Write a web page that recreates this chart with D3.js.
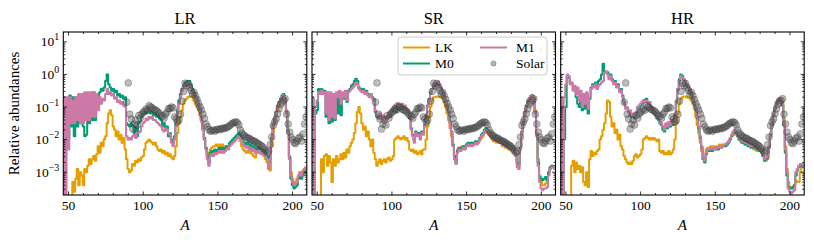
<!DOCTYPE html>
<html><head><meta charset="utf-8">
<script src="https://cdn.jsdelivr.net/npm/d3@7"></script>
<style>body{margin:0;background:#fff}svg{display:block}</style>
</head><body>
<svg id="c" width="814" height="243"></svg>
<script>
// ---------------- DATA ----------------
// Model curves: log10 of relative abundance for mass numbers A = 47 ... 209 (one value per A)
const A_START = 47;
const PANEL_TITLES = ["LR", "SR", "HR"];
const SERIES_NAMES = ["LK", "M0", "M1"];

const LR_LK = [
-4.5,-4.5,-4.5,-4.5,-4.5,-3.8,-3.3,-3.6,-3.2,-2.9,
-3.4,-3.0,-3.1,-3.4,-2.9,-3.0,-2.8,-2.6,-2.75,-2.6,
-2.5,-2.65,-2.45,-2.2,-2.4,-2.1,-2.2,-2.0,-1.9,-1.5,
-1.2,-1.1,-1.25,-1.6,-1.7,-1.9,-1.75,-2.0,-1.85,-2.1,
-1.95,-2.3,-2.6,-2.9,-3.0,-2.95,-2.75,-2.8,-2.65,-2.7,
-2.6,-2.65,-2.55,-2.5,-2.3,-2.1,-2.05,-2.0,-2.05,-2.1,
-2.15,-2.1,-2.2,-2.3,-2.35,-2.3,-2.4,-2.35,-2.45,-2.4,
-2.5,-2.45,-2.55,-2.6,-2.5,-2.2,-1.8,-1.5,-1.3,-1.1,
-0.9,-0.8,-0.75,-0.7,-0.68,-0.68,-0.7,-0.8,-0.9,-1.0,
-1.1,-1.25,-1.45,-1.7,-2.0,-2.25,-2.4,-2.5,-2.3,-2.25,
-2.2,-2.2,-2.15,-2.2,-2.15,-2.2,-2.15,-2.2,-2.2,-2.25,
-2.2,-2.15,-2.1,-2.05,-2.05,-2.0,-1.95,-1.95,-2.05,-2.2,
-2.3,-2.35,-2.4,-2.35,-2.4,-2.35,-2.45,-2.5,-2.55,-2.4,
-2.35,-2.3,-2.4,-2.45,-2.5,-2.6,-2.7,-2.8,-2.95,-2.2,
-1.8,-1.5,-1.3,-1.1,-0.95,-0.8,-0.7,-0.65,-0.75,-1.1,
-1.7,-2.5,-3.0,-3.2,-3.3,-3.3,-3.2,-3.1,-3.0,-3.0,
-2.95,-2.9,-2.85];
const LR_M0 = [
-0.7,-4.5,-0.75,-2.0,-0.65,-1.6,-0.7,-1.9,-0.7,-1.6,
-0.65,-1.5,-0.7,-1.6,-1.9,-1.85,-0.75,-1.5,-0.6,-1.4,
-0.55,-1.4,-0.6,-1.0,-0.55,-0.45,-0.5,-0.4,-0.2,0.0,
-0.3,-0.4,-0.5,-0.45,-0.55,-0.5,-0.65,-0.6,-0.7,-0.65,
-0.75,-0.7,-1.5,-1.55,-1.6,-1.5,-1.55,-1.8,-1.6,-1.9,
-1.5,-1.45,-1.3,-1.2,-1.15,-1.2,-1.1,-1.15,-1.2,-1.15,
-1.25,-1.2,-1.3,-1.25,-1.35,-1.4,-1.6,-1.5,-1.7,-1.6,
-1.9,-1.8,-2.0,-2.1,-1.9,-1.5,-1.1,-0.8,-0.6,-0.45,
-0.35,-0.25,-0.3,-0.2,-0.2,-0.3,-0.45,-0.55,-0.65,-0.75,
-0.9,-1.05,-1.35,-1.65,-1.95,-2.25,-2.5,-2.7,-2.4,-2.35,
-2.4,-2.3,-2.35,-2.3,-2.25,-2.3,-2.25,-2.3,-2.25,-2.2,
-2.2,-2.1,-2.05,-2.0,-1.95,-1.9,-1.85,-1.8,-1.85,-1.95,
-2.05,-2.1,-2.15,-2.1,-2.2,-2.15,-2.25,-2.2,-2.3,-2.25,
-2.3,-2.25,-2.35,-2.3,-2.35,-2.4,-2.5,-2.7,-2.5,-1.95,
-1.55,-1.35,-1.15,-0.95,-0.85,-0.75,-0.65,-0.6,-0.75,-1.15,
-1.75,-2.55,-3.2,-3.4,-3.5,-3.45,-3.4,-3.2,-3.1,-3.2,
-3.1,-3.0,-2.95];
const LR_M1 = [
-0.7,-4.5,-0.7,-2.3,-0.7,-1.5,-0.8,-1.5,-0.7,-1.4,
-0.6,-1.5,-0.6,-1.5,-0.55,-1.4,-0.55,-1.4,-0.55,-1.3,
-0.55,-1.3,-0.6,-1.1,-0.7,-0.9,-0.75,-0.8,-0.6,-0.45,
-0.6,-0.55,-0.65,-0.6,-0.75,-0.7,-0.85,-0.8,-0.9,-0.85,
-0.95,-1.0,-1.9,-2.0,-1.95,-2.0,-1.9,-1.85,-1.95,-1.8,
-1.8,-1.75,-1.6,-1.5,-1.45,-1.35,-1.4,-1.3,-1.35,-1.3,
-1.4,-1.4,-1.45,-1.5,-1.55,-1.6,-1.7,-1.75,-1.65,-1.7,
-1.8,-1.85,-2.1,-2.2,-2.0,-1.6,-1.2,-0.9,-0.7,-0.5,
-0.4,-0.3,-0.35,-0.25,-0.3,-0.4,-0.5,-0.6,-0.7,-0.8,
-0.95,-1.1,-1.4,-1.7,-2.0,-2.3,-2.6,-2.8,-2.5,-2.45,
-2.5,-2.4,-2.45,-2.4,-2.35,-2.4,-2.35,-2.4,-2.35,-2.3,
-2.3,-2.2,-2.15,-2.1,-2.05,-2.0,-1.95,-1.9,-1.95,-2.05,
-2.15,-2.2,-2.25,-2.2,-2.3,-2.25,-2.35,-2.3,-2.4,-2.35,
-2.4,-2.35,-2.45,-2.4,-2.45,-2.5,-2.6,-2.9,-2.6,-2.0,
-1.6,-1.4,-1.2,-1.0,-0.9,-0.8,-0.7,-0.65,-0.8,-1.2,
-1.8,-2.6,-3.1,-3.3,-3.4,-3.35,-3.3,-3.1,-3.0,-3.1,
-3.0,-2.9,-2.85];

const SR_LK = [
-4.5,-4.5,-4.5,-4.5,-4.5,-4.5,-2.6,-3.0,-2.5,-2.45,
-2.8,-2.5,-2.7,-3.3,-2.6,-2.8,-2.5,-2.7,-2.6,-2.45,
-2.6,-2.4,-2.55,-2.3,-2.4,-2.2,-2.1,-2.0,-1.8,-1.5,
-1.15,-1.0,-1.2,-1.5,-1.7,-1.6,-1.9,-1.75,-2.0,-2.2,
-2.0,-2.4,-2.6,-2.8,-2.7,-2.6,-2.75,-2.65,-2.6,-2.7,
-2.6,-2.55,-2.65,-2.6,-2.5,-2.0,-1.95,-1.9,-1.95,-2.0,
-1.95,-1.9,-2.0,-1.95,-2.05,-2.3,-2.35,-2.3,-2.4,-2.35,
-2.45,-2.4,-2.35,-2.45,-2.3,-2.3,-2.0,-1.6,-1.3,-1.0,
-0.8,-0.7,-0.7,-0.68,-0.68,-0.7,-0.7,-0.75,-0.85,-1.0,
-1.2,-1.4,-1.65,-1.9,-2.2,-2.5,-2.6,-2.3,-2.25,-2.25,
-2.2,-2.2,-2.2,-2.15,-2.15,-2.15,-2.1,-2.15,-2.1,-2.1,
-2.1,-2.05,-2.0,-1.95,-1.9,-1.8,-1.75,-1.8,-1.85,-1.9,
-2.0,-2.05,-2.0,-2.1,-2.05,-2.1,-2.1,-2.2,-2.2,-2.25,
-2.2,-2.3,-2.25,-2.3,-2.3,-2.4,-2.5,-2.7,-2.8,-2.3,
-1.85,-1.55,-1.25,-1.05,-0.9,-0.78,-0.7,-0.67,-0.72,-1.1,
-1.8,-2.6,-3.1,-3.3,-3.4,-3.4,-3.35,-3.3,-3.0,-2.9,
-2.85,-2.85,-2.9];
const SR_M0 = [
-0.75,-4.5,-1.2,-1.1,-0.45,-0.5,-0.45,-0.5,-0.5,-1.3,
-0.6,-1.5,-0.6,-1.45,-0.65,-1.4,-0.6,-1.2,-0.55,-1.25,
-0.6,-0.75,-0.55,-0.85,-0.5,-0.45,-0.35,-0.3,-0.2,-0.13,
-0.2,-0.4,-0.45,-0.5,-0.45,-0.55,-0.5,-0.6,-0.65,-0.6,
-0.7,-0.75,-1.15,-1.3,-1.35,-1.25,-1.35,-1.3,-1.4,-1.35,
-1.35,-1.25,-1.3,-1.15,-1.05,-1.1,-1.15,-1.05,-1.0,-1.05,
-0.95,-1.05,-1.0,-1.1,-1.15,-1.35,-1.65,-1.85,-2.0,-1.75,
-1.85,-1.8,-1.9,-1.75,-1.8,-1.55,-1.25,-0.95,-0.75,-0.55,
-0.45,-0.38,-0.34,-0.3,-0.28,-0.33,-0.42,-0.52,-0.65,-0.8,
-0.95,-1.15,-1.45,-1.75,-2.15,-2.5,-2.7,-2.35,-2.25,-2.3,
-2.25,-2.2,-2.25,-2.15,-2.1,-2.15,-2.1,-2.15,-2.1,-2.05,
-2.1,-2.05,-1.95,-1.85,-1.8,-1.7,-1.65,-1.7,-1.75,-1.8,
-1.9,-1.95,-1.9,-2.0,-1.95,-2.05,-2.0,-2.1,-2.05,-2.15,
-2.1,-2.2,-2.15,-2.25,-2.2,-2.3,-2.45,-2.7,-2.75,-2.25,
-1.75,-1.45,-1.15,-0.95,-0.8,-0.72,-0.66,-0.63,-0.7,-1.15,
-1.85,-2.7,-3.15,-3.2,-3.25,-3.2,-3.15,-3.25,-3.0,-2.85,
-2.8,-2.8,-2.85];
const SR_M1 = [
-0.7,-4.5,-1.0,-0.8,-0.55,-0.6,-0.5,-0.6,-0.55,-1.2,
-0.55,-1.4,-0.55,-1.3,-0.6,-1.35,-0.55,-0.7,-0.5,-0.9,
-0.55,-0.7,-0.5,-0.8,-0.55,-0.5,-0.45,-0.4,-0.35,-0.25,
-0.3,-0.45,-0.5,-0.55,-0.5,-0.6,-0.55,-0.65,-0.7,-0.6,
-0.75,-0.8,-1.1,-1.25,-1.3,-1.2,-1.35,-1.25,-1.4,-1.3,
-1.35,-1.2,-1.25,-1.1,-1.0,-0.95,-1.0,-0.9,-0.95,-1.0,
-0.9,-1.0,-0.95,-1.05,-1.1,-1.3,-1.7,-1.9,-2.1,-1.8,
-1.9,-1.85,-2.0,-1.8,-1.85,-1.6,-1.3,-1.0,-0.8,-0.6,
-0.45,-0.35,-0.3,-0.25,-0.22,-0.3,-0.4,-0.5,-0.65,-0.8,
-1.0,-1.2,-1.5,-1.8,-2.2,-2.6,-2.75,-2.4,-2.3,-2.35,
-2.3,-2.25,-2.3,-2.2,-2.15,-2.2,-2.15,-2.2,-2.15,-2.1,
-2.15,-2.1,-2.0,-1.9,-1.85,-1.75,-1.7,-1.75,-1.8,-1.85,
-1.95,-2.0,-1.95,-2.05,-2.0,-2.1,-2.05,-2.15,-2.1,-2.2,
-2.15,-2.25,-2.2,-2.3,-2.25,-2.35,-2.5,-2.85,-2.9,-2.3,
-1.8,-1.5,-1.2,-1.0,-0.85,-0.75,-0.68,-0.65,-0.7,-1.2,
-1.9,-2.8,-3.3,-3.5,-3.55,-3.5,-3.5,-3.45,-3.1,-2.9,
-2.85,-2.85,-2.9];

const HR_LK = [
-4.5,-4.5,-4.5,-4.5,-4.5,-4.5,-4.5,-2.8,-2.65,-3.0,
-2.7,-2.9,-2.8,-3.0,-2.85,-3.3,-3.4,-3.0,-3.45,-2.6,
-2.35,-2.5,-2.4,-2.45,-2.35,-2.3,-2.0,-1.9,-1.7,-1.5,
-1.2,-0.8,-0.85,-1.3,-1.6,-1.5,-1.8,-1.7,-2.0,-1.85,
-2.2,-2.3,-2.5,-2.6,-2.7,-2.75,-2.7,-2.75,-2.65,-2.5,
-2.45,-2.55,-2.5,-2.45,-2.3,-2.0,-1.95,-1.9,-1.95,-2.0,
-1.95,-2.0,-1.95,-2.0,-2.05,-2.0,-2.35,-2.4,-2.35,-2.45,
-2.4,-2.45,-2.35,-2.45,-2.4,-2.3,-2.0,-1.5,-1.2,-0.9,
-0.75,-0.7,-0.68,-0.68,-0.7,-0.72,-0.75,-0.8,-0.9,-1.05,
-1.3,-1.55,-1.8,-2.1,-2.35,-2.6,-2.55,-2.3,-2.25,-2.25,
-2.2,-2.25,-2.2,-2.25,-2.2,-2.2,-2.15,-2.2,-2.15,-2.15,
-2.15,-2.1,-2.05,-2.0,-1.9,-1.85,-1.8,-1.85,-1.9,-2.0,
-2.05,-2.1,-2.05,-2.15,-2.1,-2.15,-2.15,-2.2,-2.2,-2.3,
-2.25,-2.35,-2.3,-2.35,-2.4,-2.5,-2.6,-2.65,-2.6,-2.25,
-1.9,-1.55,-1.25,-1.05,-0.9,-0.78,-0.72,-0.74,-0.85,-1.35,
-2.2,-2.9,-3.3,-3.45,-3.5,-3.5,-3.4,-3.25,-3.3,-3.3,
-3.0,-2.85,-2.8];
const HR_M0 = [
-0.75,-4.5,-2.0,-1.0,-0.05,-0.1,-0.25,-0.3,-0.45,-0.4,
-0.7,-0.9,-1.0,-0.6,-1.1,-0.7,-1.05,-0.6,-1.2,-0.75,
-0.4,-0.3,-0.35,-0.25,-0.3,-0.2,-0.15,0.0,0.33,0.1,
0.05,0.07,-0.1,0.0,-0.15,-0.25,-0.2,-0.35,-0.3,-0.5,
-0.45,-0.65,-0.85,-1.0,-1.05,-1.15,-1.25,-1.3,-1.25,-1.35,
-1.2,-1.05,-1.0,-0.95,-0.9,-0.8,-0.78,-0.75,-0.85,-0.85,
-1.0,-1.1,-1.2,-1.25,-1.35,-1.4,-1.5,-1.55,-1.7,-1.75,
-1.55,-1.65,-1.5,-1.6,-1.45,-1.55,-1.25,-0.85,-0.45,-0.15,
0.0,-0.05,-0.15,-0.25,-0.35,-0.4,-0.5,-0.6,-0.75,-0.9,
-1.1,-1.35,-1.65,-1.95,-2.25,-2.6,-2.7,-2.45,-2.35,-2.35,
-2.3,-2.35,-2.3,-2.3,-2.25,-2.3,-2.25,-2.25,-2.2,-2.2,
-2.2,-2.15,-2.1,-2.0,-1.9,-1.8,-1.75,-1.8,-1.9,-2.0,
-2.0,-2.1,-2.05,-2.15,-2.1,-2.2,-2.15,-2.25,-2.2,-2.25,
-2.2,-2.3,-2.25,-2.35,-2.35,-2.5,-2.65,-2.6,-2.55,-2.25,
-1.85,-1.55,-1.25,-1.05,-0.9,-0.8,-0.76,-0.8,-0.95,-1.55,
-2.4,-3.1,-3.45,-3.5,-3.5,-3.45,-3.4,-3.1,-2.95,-2.85,
-2.8,-2.8,-2.85];
const HR_M1 = [
-0.7,-4.5,-0.7,-0.3,0.0,-0.05,-0.3,-0.25,-0.5,-0.35,
-0.6,-0.4,-0.8,-0.5,-1.0,-0.6,-0.9,-0.55,-1.05,-0.7,
-0.45,-0.35,-0.4,-0.3,-0.45,-0.35,-0.3,-0.25,-0.2,0.05,
0.1,0.0,-0.15,-0.05,-0.2,-0.3,-0.25,-0.4,-0.35,-0.55,
-0.5,-0.7,-0.9,-1.05,-1.0,-1.15,-1.1,-1.25,-1.2,-1.3,
-1.15,-1.0,-0.95,-0.9,-0.85,-0.8,-0.85,-0.8,-0.9,-0.85,
-1.0,-1.05,-1.15,-1.2,-1.3,-1.35,-1.45,-1.5,-1.6,-1.7,
-1.5,-1.6,-1.45,-1.55,-1.4,-1.5,-1.2,-0.8,-0.5,-0.25,
-0.05,-0.1,-0.15,-0.2,-0.3,-0.35,-0.45,-0.55,-0.7,-0.85,
-1.05,-1.3,-1.6,-1.9,-2.2,-2.55,-2.65,-2.4,-2.3,-2.3,
-2.25,-2.3,-2.25,-2.3,-2.25,-2.25,-2.2,-2.25,-2.2,-2.15,
-2.15,-2.1,-2.05,-1.95,-1.85,-1.75,-1.7,-1.75,-1.85,-1.95,
-1.95,-2.05,-2.0,-2.1,-2.05,-2.15,-2.1,-2.2,-2.15,-2.2,
-2.15,-2.25,-2.2,-2.3,-2.3,-2.45,-2.6,-2.55,-2.5,-2.2,
-1.8,-1.5,-1.2,-1.0,-0.85,-0.75,-0.72,-0.75,-0.9,-1.5,
-2.3,-3.0,-3.5,-3.6,-3.65,-3.6,-3.55,-3.0,-2.9,-2.8,
-2.75,-2.75,-2.8];

// Solar pattern: relative abundance for A = 89 ... 209
const SOLAR_START = 89;
const SOLAR = [
0.14,0.55,0.06,0.043,0.021,0.03,0.04,0.028,0.055,0.045,
0.06,0.069,0.075,0.088,0.08,0.11,0.1,0.094,0.085,0.08,
0.078,0.07,0.062,0.055,0.051,0.045,0.06,0.07,0.09,0.09,
0.1,0.094,0.05,0.043,0.035,0.04,0.06,0.15,0.3,0.54,
0.45,0.53,0.4,0.32,0.25,0.28,0.22,0.17,0.13,0.1,
0.08,0.06,0.045,0.03,0.025,0.02,0.018,0.019,0.02,0.018,
0.02,0.021,0.02,0.022,0.021,0.023,0.022,0.024,0.025,0.027,
0.03,0.032,0.034,0.035,0.033,0.028,0.02,0.016,0.014,0.013,
0.012,0.011,0.011,0.01,0.0095,0.009,0.0088,0.008,0.0075,0.007,
0.0065,0.006,0.0052,0.0045,0.004,0.0045,0.007,0.012,0.027,0.035,
0.043,0.062,0.088,0.12,0.14,0.16,0.18,0.06,0.03,0.017,
0.012,0.01,0.008,0.0075,0.009,0.011,0.012,0.009,0.015,0.03,
0.05];

const X_TICKS = [50, 100, 150, 200];
const Y_TICKS = [1e-3, 1e-2, 1e-1, 1e0, 1e1];
const Y_TICK_EXP = ["\u22123", "\u22122", "\u22121", "0", "1"];

// ---------------- LAYOUT / STYLE ----------------
const COLORS = { LK: "#E69F00", M0: "#009E73", M1: "#CC79A7" };
const FONT = "Liberation Serif";
const PW = 243.5, PH = 163, TOP = 32;
const LEFTS = [63.3, 312, 560.7];

const panels = [
  { title: PANEL_TITLES[0], LK: LR_LK, M0: LR_M0, M1: LR_M1 },
  { title: PANEL_TITLES[1], LK: SR_LK, M0: SR_M0, M1: SR_M1 },
  { title: PANEL_TITLES[2], LK: HR_LK, M0: HR_M0, M1: HR_M1 }
];

const svg = d3.select("#c");
const x = d3.scaleLinear().domain([46.5, 209.5]).range([0, PW]);
const y = d3.scaleLog().domain([2e-4, 20]).range([PH, 0]);
const line = d3.line().x(d => x(d[0])).y(d => y(d[1])).curve(d3.curveStep);

const solarPts = SOLAR.map((v, j) => [SOLAR_START + j, v]);

const yMinor = [];
for (let e = -4; e <= 1; e++) for (let m = 2; m <= 9; m++) {
  const v = m * Math.pow(10, e);
  if (v > 2e-4 && v < 20) yMinor.push(v);
}
const xMinor = d3.range(50, 210, 10).filter(v => !X_TICKS.includes(v));

function txt(sel) { return sel.append("text").style("font-family", FONT).attr("fill", "#000"); }

panels.forEach((p, i) => {
  const g = svg.append("g").attr("transform", `translate(${LEFTS[i]},${TOP})`);
  g.append("clipPath").attr("id", "clip" + i)
    .append("rect").attr("width", PW).attr("height", PH);
  const gl = g.append("g").attr("clip-path", `url(#clip${i})`);

  SERIES_NAMES.forEach(name => {
    const pts = p[name].map((v, j) => [A_START + j, Math.pow(10, v)]);
    gl.append("path").attr("d", line(pts))
      .attr("fill", "none").attr("stroke", COLORS[name])
      .attr("stroke-width", 2).attr("stroke-linejoin", "round");
  });

  gl.selectAll("circle.sol").data(solarPts).join("circle").attr("class", "sol")
    .attr("cx", d => x(d[0])).attr("cy", d => y(d[1])).attr("r", 3.4)
    .attr("fill", "rgba(90,90,90,0.4)")
    .attr("stroke", "rgba(30,30,30,0.35)").attr("stroke-width", 0.8);

  const tk = g.append("g").attr("stroke", "#000").attr("stroke-width", 0.8);
  X_TICKS.forEach(v => {
    tk.append("line").attr("x1", x(v)).attr("x2", x(v)).attr("y1", PH).attr("y2", PH - 3.5);
    tk.append("line").attr("x1", x(v)).attr("x2", x(v)).attr("y1", 0).attr("y2", 3.5);
  });
  xMinor.forEach(v => {
    tk.append("line").attr("x1", x(v)).attr("x2", x(v)).attr("y1", PH).attr("y2", PH - 2);
    tk.append("line").attr("x1", x(v)).attr("x2", x(v)).attr("y1", 0).attr("y2", 2);
  });
  Y_TICKS.forEach(v => {
    tk.append("line").attr("x1", 0).attr("x2", 3.5).attr("y1", y(v)).attr("y2", y(v));
    tk.append("line").attr("x1", PW).attr("x2", PW - 3.5).attr("y1", y(v)).attr("y2", y(v));
  });
  yMinor.forEach(v => {
    tk.append("line").attr("x1", 0).attr("x2", 2).attr("y1", y(v)).attr("y2", y(v));
    tk.append("line").attr("x1", PW).attr("x2", PW - 2).attr("y1", y(v)).attr("y2", y(v));
  });

  g.append("rect").attr("width", PW).attr("height", PH)
    .attr("fill", "none").attr("stroke", "#000").attr("stroke-width", 1.1);

  X_TICKS.forEach(v => {
    txt(g).attr("x", x(v)).attr("y", PH + 15).attr("text-anchor", "middle")
      .attr("font-size", 13.5).text(v);
  });
  txt(g).attr("x", PW / 2).attr("y", PH + 35).attr("text-anchor", "middle")
    .attr("font-size", 15).attr("font-style", "italic").text("A");
  txt(g).attr("x", PW / 2).attr("y", -8).attr("text-anchor", "middle")
    .attr("font-size", 16.5).text(p.title);

  if (i === 0) {
    Y_TICKS.forEach((v, k) => {
      const t = txt(g).attr("x", -4).attr("y", y(v) + 4.5)
        .attr("text-anchor", "end").attr("font-size", 13.5);
      t.append("tspan").text("10");
      t.append("tspan").attr("dy", -6).attr("font-size", 10).text(Y_TICK_EXP[k]);
    });
    txt(g).attr("transform", `translate(-44,${PH / 2}) rotate(-90)`)
      .attr("text-anchor", "middle").attr("font-size", 15).text("Relative abundances");
  }

  if (i === 1) {
    const lg = g.append("g").attr("transform", `translate(${398 - LEFTS[1]},${37 - TOP})`);
    lg.append("rect").attr("width", 149).attr("height", 38).attr("rx", 3)
      .attr("fill", "rgba(255,255,255,0.8)").attr("stroke", "#ccc").attr("stroke-width", 1);
    const items = [
      { name: "LK", col: 0, row: 0 }, { name: "M0", col: 0, row: 1 },
      { name: "M1", col: 1, row: 0 }, { name: "Solar", col: 1, row: 1 }
    ];
    items.forEach(it => {
      const x0 = it.col === 0 ? 5 : 82, yy = 10.5 + it.row * 16;
      if (it.name === "Solar") {
        lg.append("circle").attr("cx", x0 + 13.5).attr("cy", yy).attr("r", 2.6)
          .attr("fill", "rgba(90,90,90,0.45)").attr("stroke", "rgba(30,30,30,0.35)").attr("stroke-width", 0.8);
      } else {
        lg.append("line").attr("x1", x0).attr("x2", x0 + 27).attr("y1", yy).attr("y2", yy)
          .attr("stroke", COLORS[it.name]).attr("stroke-width", 2);
      }
      txt(lg).attr("x", it.col === 0 ? x0 + 32 : x0 + 36).attr("y", yy + 4.5)
        .attr("font-size", 13.5).text(it.name);
    });
  }
});
</script>
</body></html>
